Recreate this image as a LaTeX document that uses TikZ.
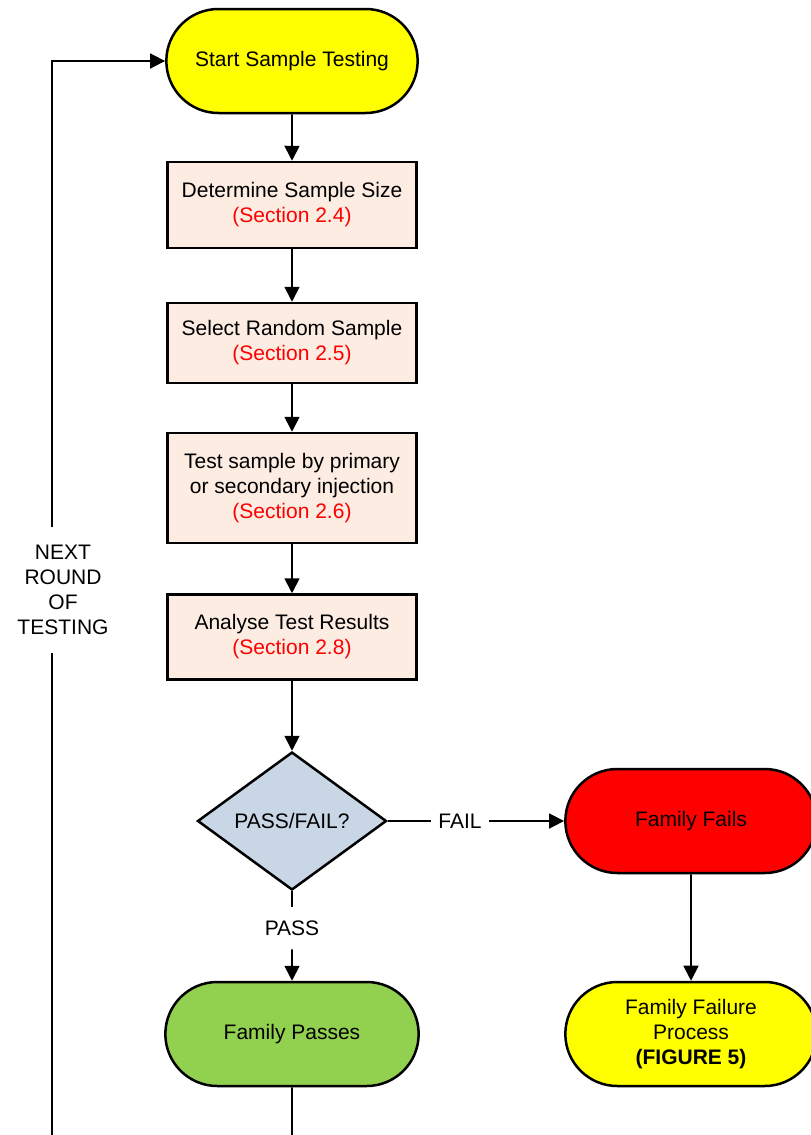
\documentclass[tikz,border=0pt]{standalone}
\usepackage{fontspec}
\setmainfont{Liberation Sans}
\usepackage{tikz}
\usetikzlibrary{shapes.misc,shapes.geometric,arrows.meta,positioning}

\definecolor{startyellow}{RGB}{255,255,0}
\definecolor{processfill}{RGB}{252,236,226}
\definecolor{decisionfill}{RGB}{200,214,229}
\definecolor{failred}{RGB}{255,0,0}
\definecolor{passgreen}{RGB}{146,208,80}

\tikzset{
	every label text/.style={font=\fontsize{21}{25}\selectfont, align=center},
	terminal/.style={every label text, rounded rectangle, draw, line width=2.5pt,
		minimum width=258pt, minimum height=104pt},
	process/.style={every label text, rectangle, draw, line width=2.5pt, fill=processfill,
		minimum width=249pt, minimum height=86pt},
	decision/.style={every label text, diamond, draw, line width=2.5pt, fill=decisionfill,
		inner sep=0pt, aspect=1.37, minimum width=189pt, minimum height=138pt},
	branch/.style={every label text, inner xsep=7pt, inner ysep=13pt}
}

\begin{document}
\begin{tikzpicture}[x=1pt, y=-1pt, line width=1.7pt, >={Triangle[length=15pt, width=15pt]}]

		\useasboundingbox (0,0) rectangle (811,1135);

		\node [terminal, fill=startyellow] (start) at (292,61) {Start Sample Testing};

		\foreach \t/\s/\y/\h [count=\i] in {
			{Determine Sample Size}/2.4/205/86,
			{Select Random Sample}/2.5/343/80,
			{Test sample by primary\\or secondary injection}/2.6/488/110,
			{Analyse Test Results}/2.8/637/85}
		\node [process, minimum height=\h pt] (process-\i) at (292,\y) {\t\\\textcolor{failred}{(Section \s)}};

		\node [decision] (decision) at (292,821) {PASS/FAIL?};

		\node [terminal, fill=failred] (fails) at (691,821) {Family Fails};
		\node [terminal, fill=startyellow] (failure) at (691,1034) {Family Failure\\Process\\\textbf{(FIGURE 5)}};
		\node [terminal, fill=passgreen, minimum width=260pt] (passes) at (292,1034) {Family Passes};

		\node [branch] (fail) at (460,821) {FAIL};
		\node [branch] (pass) at (292,928) {PASS};

		\node [every label text, inner ysep=17pt] (nextround) at (63,590) {NEXT\\ROUND\\OF\\TESTING};

		\coordinate (loop-end) at (52,1135);
		\coordinate (pass-end) at (292,1135);

		\draw [->] (start) -- (process-1);
		\foreach \i/\j in {1/2,2/3,3/4}
		\draw [->] (process-\i) -- (process-\j);
		\draw [->] (process-4) -- (decision);

		\draw (decision) -- (fail);
		\draw [->] (fail) -- (fails);
		\draw (decision) -- (pass);
		\draw [->] (pass) -- (passes);
		\draw [->] (fails) -- (failure);

		% back round to the start
		\draw (passes) -- (pass-end);
		\draw (loop-end) -- (loop-end |- nextround.south);
		\draw [->] (loop-end |- nextround.north) |- (start);

\end{tikzpicture}
\end{document}
